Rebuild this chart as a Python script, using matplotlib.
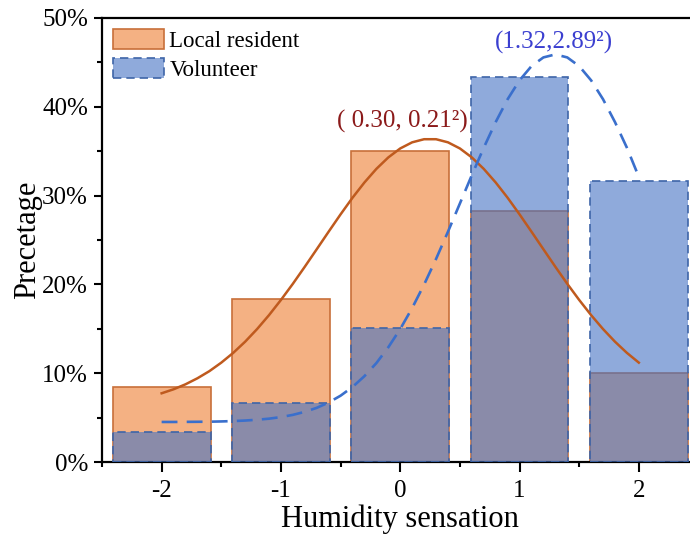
import matplotlib
matplotlib.use("Agg")
import matplotlib.pyplot as plt
from matplotlib.patches import Patch
from matplotlib.ticker import MultipleLocator

plt.rcParams['font.family'] = ['Liberation Serif', 'DejaVu Serif']

# Humidity sensation vote categories and share of each group (%)
categories = [-2, -1, 0, 1, 2]
local_resident = [8.4, 18.4, 35.0, 28.3, 10.0]
volunteer = [3.4, 6.7, 15.1, 43.3, 31.6]

# Fitted normal curves, sampled every 0.1 along the sensation scale (%)
curve_x = [-2.0, -1.9, -1.8, -1.7, -1.6, -1.5, -1.4, -1.3, -1.2, -1.1,
           -1.0, -0.9, -0.8, -0.7, -0.6, -0.5, -0.4, -0.3, -0.2, -0.1,
           0.0, 0.1, 0.2, 0.3, 0.4, 0.5, 0.6, 0.7, 0.8, 0.9,
           1.0, 1.1, 1.2, 1.3, 1.4, 1.5, 1.6, 1.7, 1.8, 1.9, 2.0]
local_fit = [7.74, 8.19, 8.75, 9.43, 10.23, 11.19, 12.29, 13.55, 14.97, 16.54,
             18.25, 20.07, 21.99, 23.96, 25.94, 27.89, 29.76, 31.48, 33.01, 34.30,
             35.31, 36.00, 36.35, 36.35, 36.00, 35.31, 34.30, 33.01, 31.48, 29.76,
             27.89, 25.94, 23.96, 21.99, 20.07, 18.25, 16.54, 14.97, 13.55, 12.29, 11.19]
volunteer_fit = [4.51, 4.51, 4.52, 4.53, 4.54, 4.57, 4.61, 4.67, 4.76, 4.88,
                 5.06, 5.31, 5.65, 6.10, 6.70, 7.47, 8.45, 9.67, 11.14, 12.92,
                 14.98, 17.34, 19.98, 22.86, 25.93, 29.11, 32.30, 35.39, 38.28, 40.85,
                 42.98, 44.58, 45.56, 45.90, 45.56, 44.58, 42.98, 40.85, 38.28, 35.39, 32.10]

local_label = "( 0.30, 0.21²)"
volunteer_label = "(1.32,2.89²)"

fig = plt.figure(figsize=(6.9, 5.34), dpi=100)
ax = fig.add_axes([0.1478, 0.1348, 0.8645, 0.8315])

bar_w = 0.82
ax.bar(categories, local_resident, width=bar_w, color='#ED7D31', alpha=0.6,
       edgecolor='none', zorder=2)
ax.bar(categories, local_resident, width=bar_w, facecolor='none',
       edgecolor='#C8703A', linewidth=1.2, zorder=2.1)
ax.bar(categories, volunteer, width=bar_w, color='#4472C4', alpha=0.6,
       edgecolor='none', zorder=3)
ax.bar(categories, volunteer, width=bar_w, facecolor='none',
       edgecolor='#3E65A8', linewidth=1.2, linestyle=(0, (5, 3)), zorder=3.1)

ax.plot(curve_x, local_fit, color='#BF5A1E', linewidth=1.8, zorder=5)
ax.plot(curve_x, volunteer_fit, color='#3A6FCC', linewidth=1.9,
        linestyle=(0, (6, 3.5)), zorder=5)

ax.text(0.02, 38.3, local_label, color='#8B1A1A', fontsize=18,
        ha='center', va='center', zorder=6)
ax.text(1.29, 47.3, volunteer_label, color='#3B3FD0', fontsize=18,
        ha='center', va='center', zorder=6)

ax.set_xlim(-2.5, 2.5)
ax.set_ylim(0, 50)
ax.set_xticks(categories)
ax.set_xticklabels([str(c) for c in categories])
ax.xaxis.set_minor_locator(MultipleLocator(0.5))
ax.set_yticks([0, 10, 20, 30, 40, 50])
ax.set_yticklabels(['0%', '10%', '20%', '30%', '40%', '50%'])
ax.yaxis.set_minor_locator(MultipleLocator(5))

ax.tick_params(axis='both', which='major', direction='out', length=6,
               width=1.5, labelsize=18, pad=4)
ax.tick_params(axis='x', which='major', length=7, pad=6)
ax.tick_params(axis='both', which='minor', direction='out', length=3.5,
               width=1.5)
for side in ['left', 'bottom', 'top', 'right']:
    ax.spines[side].set_linewidth(1.6)

ax.set_xlabel('Humidity sensation', fontsize=22, labelpad=2)
ax.set_ylabel('Precetage', fontsize=22, labelpad=0)

handles = [
    Patch(facecolor=(0.929, 0.490, 0.192, 0.6), edgecolor='#C8703A', linewidth=1.2),
    Patch(facecolor=(0.267, 0.447, 0.769, 0.6), edgecolor='#3E65A8', linewidth=1.2,
          linestyle=(0, (5, 3))),
]
ax.legend(handles, ['Local resident', 'Volunteer'], loc='upper left',
          frameon=False, fontsize=16.5, handlelength=2.2, handleheight=1.0,
          handletextpad=0.25, labelspacing=0.25, borderaxespad=0.3,
          bbox_to_anchor=(-0.008, 1.012))

fig.savefig('out.png', dpi=100)
